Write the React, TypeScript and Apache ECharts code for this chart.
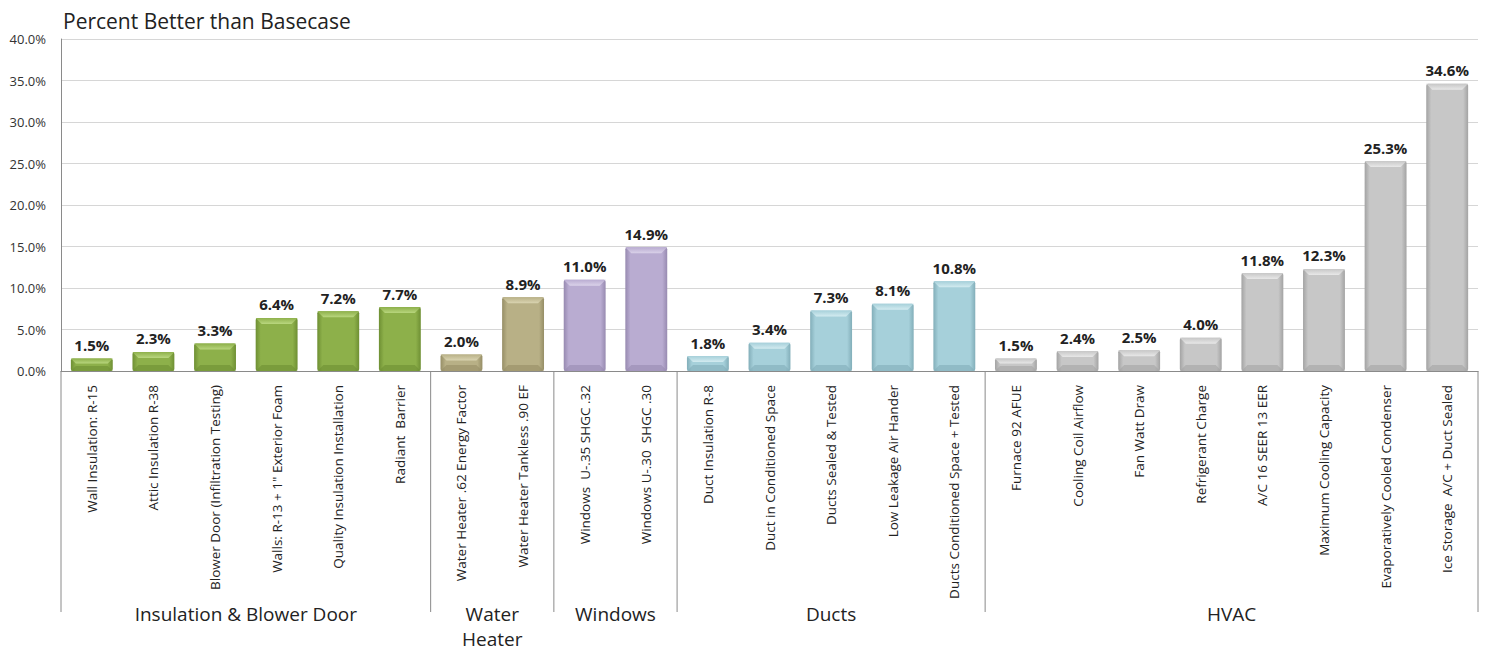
import React, { useEffect, useRef } from "react";
import * as echarts from "echarts";

const categories = [
  "Wall Insulation: R-15",
  "Attic Insulation R-38",
  "Blower Door (Infiltration Testing)",
  "Walls: R-13 + 1\" Exterior Foam",
  "Quality Insulation Installation",
  "Radiant  Barrier",
  "Water Heater .62 Energy Factor",
  "Water Heater Tankless .90 EF",
  "Windows  U-.35 SHGC .32",
  "Windows U-.30  SHGC .30",
  "Duct Insulation R-8",
  "Duct in Conditioned Space",
  "Ducts Sealed & Tested",
  "Low Leakage Air Hander",
  "Ducts Conditioned Space + Tested",
  "Furnace 92 AFUE",
  "Cooling Coil Airflow",
  "Fan Watt Draw",
  "Refrigerant Charge",
  "A/C 16 SEER 13 EER",
  "Maximum Cooling Capacity",
  "Evaporatively Cooled Condenser",
  "Ice Storage  A/C + Duct Sealed",
];
const values = [1.5, 2.3, 3.3, 6.4, 7.2, 7.7, 2.0, 8.9, 11.0, 14.9, 1.8, 3.4, 7.3, 8.1, 10.8, 1.5, 2.4, 2.5, 4.0, 11.8, 12.3, 25.3, 34.6];
const groupNames = [["Insulation & Blower Door"], ["Water", "Heater"], ["Windows"], ["Ducts"], ["HVAC"]];
const groupSizes = [6, 2, 2, 5, 8];
const groupColors = [
  { base: "#8DB04A", light: "#B9D67E", dark: "#6E8F33" },
  { base: "#B8B086", light: "#D9D3B0", dark: "#968E66" },
  { base: "#B9ACD1", light: "#DAD2E9", dark: "#978AB0" },
  { base: "#A6D0DA", light: "#D3EBF0", dark: "#82AEB9" },
  { base: "#C7C7C7", light: "#E8E8E8", dark: "#A3A3A3" },
];

const groupOf: number[] = [];
groupSizes.forEach((n, g) => {
  for (let i = 0; i < n; i++) groupOf.push(g);
});

export default function App() {
  const ref = useRef<HTMLDivElement>(null);
  useEffect(() => {
    document.body.style.margin = "0";
    document.body.style.overflow = "hidden";
    if (!ref.current) return;
    const chart = echarts.init(ref.current, null, { renderer: "svg" });
    const data = values.map((v, i) => [i, v, groupOf[i]]);
    const fontFamily = "'Open Sans', 'Noto Sans', sans-serif";
    chart.setOption({
      animation: false,
      backgroundColor: "#ffffff",
      title: {
        text: "Percent Better than Basecase",
        left: 58,
        top: 5,
        textStyle: { fontSize: 21, fontWeight: "normal", color: "#222", fontFamily },
      },
      grid: { left: 61, right: 11, top: 39, bottom: 281, containLabel: false },
      xAxis: {
        type: "category",
        data: categories,
        axisLine: { show: true, lineStyle: { color: "#8a8a8a", width: 1 } },
        axisTick: { show: false },
        axisLabel: {
          rotate: 90,
          interval: 0,
          margin: 14,
          fontSize: 13.5,
          color: "#222",
          fontFamily,
        },
      },
      yAxis: {
        type: "value",
        min: 0,
        max: 40,
        interval: 5,
        axisLine: { show: true, lineStyle: { color: "#8a8a8a" } },
        axisTick: { show: false },
        axisLabel: {
          formatter: (v: number) => v.toFixed(1) + "%",
          fontSize: 13,
          color: "#333",
          margin: 15,
          fontFamily,
        },
        splitLine: { lineStyle: { color: "#d6d6d6" } },
      },
      series: [
        {
          type: "custom",
          data,
          encode: { x: 0, y: 1 },
          renderItem: (params: any, api: any) => {
            const idx = api.value(0);
            const v = api.value(1);
            const g = api.value(2);
            const c = groupColors[g];
            const top = api.coord([idx, v]);
            const base = api.coord([idx, 0]);
            const bw = api.size([1, 0])[0] * 0.68;
            const l = top[0] - bw / 2;
            const r = top[0] + bw / 2;
            const t = top[1];
            const b = base[1];
            const h = b - t;
            const bev = Math.min(6, h / 2.5);
            return {
              type: "group",
              children: [
                {
                  type: "rect",
                  shape: { x: l, y: t, width: bw, height: h, r: 2 },
                  style: {
                    fill: new echarts.graphic.LinearGradient(0, 0, 1, 0, [
                      { offset: 0, color: c.dark },
                      { offset: 0.12, color: c.base },
                      { offset: 0.5, color: c.base },
                      { offset: 0.88, color: c.base },
                      { offset: 1, color: c.dark },
                    ]),
                  },
                },
                {
                  type: "polygon",
                  shape: {
                    points: [
                      [l, t],
                      [r, t],
                      [r - bev, t + bev],
                      [l + bev, t + bev],
                    ],
                  },
                  style: {
                    fill: new echarts.graphic.LinearGradient(0, 0, 0, 1, [
                      { offset: 0, color: c.base },
                      { offset: 1, color: c.light },
                    ]),
                  },
                },
                {
                  type: "polygon",
                  shape: {
                    points: [
                      [l, b],
                      [r, b],
                      [r - bev, b - bev],
                      [l + bev, b - bev],
                    ],
                  },
                  style: { fill: c.dark, opacity: 0.6 },
                },
                {
                  type: "text",
                  x: top[0],
                  y: t - 6,
                  style: {
                    text: v.toFixed(1) + "%",
                    align: "center",
                    verticalAlign: "bottom",
                    fontSize: 15,
                    fontWeight: "bold",
                    fill: "#222",
                    fontFamily,
                  },
                },
              ],
            };
          },
        },
      ],
    });

    // separators and group labels computed from the axis scale
    const x0 = chart.convertToPixel({ xAxisIndex: 0 }, 0) as number;
    const x1 = chart.convertToPixel({ xAxisIndex: 0 }, 1) as number;
    const band = x1 - x0;
    const yBase = chart.convertToPixel({ yAxisIndex: 0 }, 0) as number;
    const yEnd = 612;
    const graphics: any[] = [];
    let start = 0;
    const edges: number[] = [start];
    groupSizes.forEach((n) => {
      start += n;
      edges.push(start);
    });
    edges.forEach((e) => {
      const px = x0 - band / 2 + e * band;
      graphics.push({
        type: "line",
        shape: { x1: px, y1: yBase, x2: px, y2: yEnd },
        style: { stroke: "#8a8a8a", lineWidth: 1 },
      });
    });
    groupNames.forEach((lines, gi) => {
      const cx = x0 - band / 2 + ((edges[gi] + edges[gi + 1]) / 2) * band;
      lines.forEach((line, li) => {
        graphics.push({
          type: "text",
          x: cx,
          y: 614 + li * 25,
          style: {
            text: line,
            align: "center",
            verticalAlign: "middle",
            fontSize: 19,
            lineHeight: 19,
            fill: "#222",
            fontFamily,
          },
        });
      });
    });
    chart.setOption({ graphic: graphics });

    return () => chart.dispose();
  }, []);
  return <div ref={ref} style={{ width: 1489, height: 652 }} />;
}
